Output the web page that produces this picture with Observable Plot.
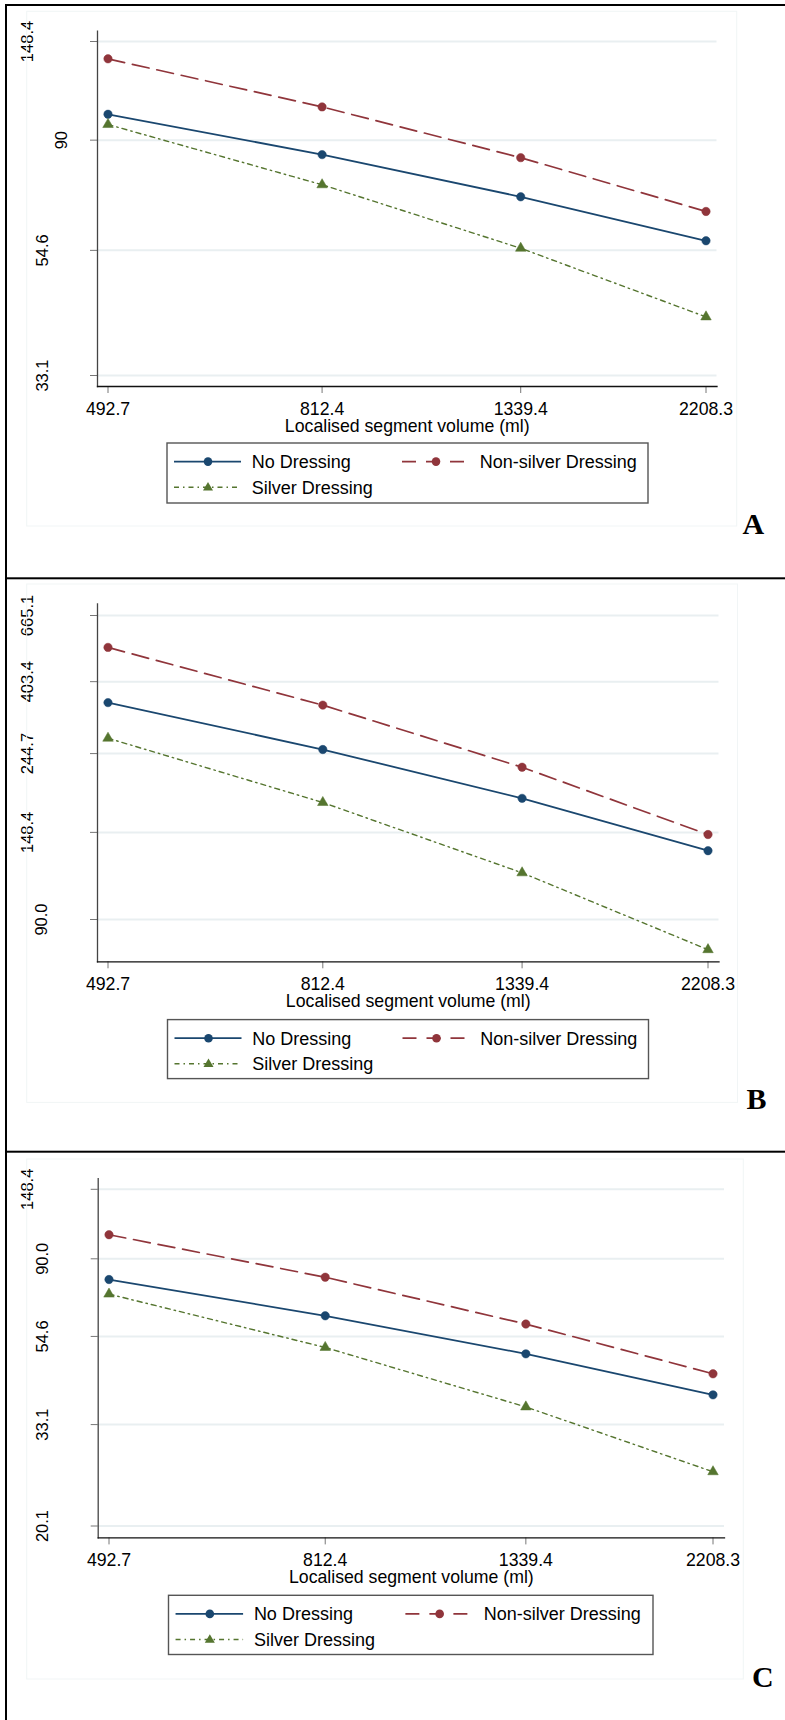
<!DOCTYPE html>
<html><head><meta charset="utf-8">
<script src="https://cdn.jsdelivr.net/npm/d3@7"></script>
<script src="https://cdn.jsdelivr.net/npm/@observablehq/plot@0.6"></script>
<style>
body{margin:0;background:#fff;}
#wrap{position:relative;width:785px;height:1720px;overflow:hidden;background:#fff;font-family:"Liberation Sans",Arial,sans-serif;}
.panel{position:absolute;left:0;}
#deco{position:absolute;left:0;top:0;pointer-events:none;}
</style></head><body><div id="wrap"></div>
<script>
// ---------- data ----------
const volumes = [492.7, 812.4, 1339.4, 2208.3];
const volumeLabels = ["492.7", "812.4", "1339.4", "2208.3"];
const series = ["No Dressing", "Non-silver Dressing", "Silver Dressing"];
const xTitle = "Localised segment volume (ml)";

const noDressingA = [102.1, 84.0, 69.1, 56.9];
const nonSilverA  = [135.4, 105.9, 82.8, 64.7];
const silverA     = [97.1, 73.0, 55.1, 41.5];
const yTicksA      = [33.1, 54.6, 90, 148.4];
const yTickLabelsA = ["33.1", "54.6", "90", "148.4"];

const noDressingB = [347.2, 251.4, 183.1, 133.0];
const nonSilverB  = [520.0, 341.0, 223.6, 146.5];
const silverB     = [271.3, 178.4, 116.9, 76.6];
const yTicksB      = [90.0, 148.4, 244.7, 403.4, 665.1];
const yTickLabelsB = ["90.0", "148.4", "244.7", "403.4", "665.1"];

const noDressingC = [78.3, 62.0, 49.2, 38.9];
const nonSilverC  = [106.4, 79.5, 58.9, 43.8];
const silverC     = [71.2, 51.1, 36.4, 26.0];
const yTicksC      = [20.1, 33.1, 54.6, 90.0, 148.4];
const yTickLabelsC = ["20.1", "33.1", "54.6", "90.0", "148.4"];

const panelLetters = ["A", "B", "C"];

// ---------- styles ----------
const colors = ["#1a476f", "#90353b", "#55752f"];
const dashes = [null, "17,8", "5,4,1.5,4"];
const widths = [1.8, 1.7, 1.4];

const panels = [
  {top: 0, height: 578, mL: 97, mT: 30.7, xAxisY: 386, xEnd: 716.5, xRange: [107.5, 705.5], yRange: [375, 41],
   values: [noDressingA, nonSilverA, silverA], yTicks: yTicksA, yTickLabels: yTickLabelsA,
   lab: {5: 27, 4: 42, 2: 61}, legend: {x: 167, y: 443, w: 481, h: 60, s: 1}, letter: {x: 742.5, y: 534},
   region: {x: 26.7, y: 11.3, w: 710, h: 514.7}},
  {top: 578, height: 573.5, mL: 97, mT: 25.3, xAxisY: 383.3, xEnd: 718.5, xRange: [107.5, 707.5], yRange: [341, 37],
   values: [noDressingB, nonSilverB, silverB], yTicks: yTicksB, yTickLabels: yTickLabelsB,
   lab: {5: 27, 4: 41.5, 2: 61}, legend: {x: 167.5, y: 1019.6, w: 481, h: 59, s: 1}, letter: {x: 746.5, y: 1109},
   region: {x: 26.7, y: 584, w: 710.8, h: 518.4}},
  {top: 1151.5, height: 568.5, mL: 97.7, mT: 26.2, xAxisY: 385.4, xEnd: 724, xRange: [108.5, 712.5], yRange: [373.5, 36.8],
   values: [noDressingC, nonSilverC, silverC], yTicks: yTicksC, yTickLabels: yTickLabelsC,
   lab: {5: 27, 4: 42, 2: 61}, legend: {x: 168.5, y: 1595.3, w: 484.5, h: 59.2, s: 1.008}, letter: {x: 752, y: 1686.7},
   region: {x: 26.7, y: 1159, w: 716.6, h: 520}}
];

const wrap = document.getElementById("wrap");
const lnVol = volumes.map(Math.log);

panels.forEach((cfg, pi) => {
  const rows = [];
  cfg.values.forEach((vals, s) => vals.forEach((v, i) => rows.push({series: series[s], s, volume: volumes[i], value: v})));
  const X = d => Math.log(d.volume);
  const Y = d => Math.log(d.value);
  const lnTicks = cfg.yTicks.map(Math.log);
  const tickRows = cfg.yTicks.map((t, i) => ({t, label: cfg.yTickLabels[i]}));
  const marks = [
    Plot.ruleY(lnTicks, {stroke: "#e9eff1", strokeWidth: 2}),
    Plot.axisY(lnTicks, {anchor: "left", tickSize: 7, tickFormat: () => "", stroke: "#777", label: null}),
    Plot.axisX(lnVol, {anchor: "bottom", tickSize: 7, tickPadding: 9, fontSize: 17.7, stroke: "#777", fill: "#000",
      tickFormat: d => volumeLabels[lnVol.indexOf(d)], label: null}),
    Plot.frame({anchor: "left", stroke: "#444", strokeWidth: 1.3}),
    Plot.frame({anchor: "bottom", stroke: "#111", strokeWidth: 1.3}),
    Plot.text([xTitle], {frameAnchor: "bottom", dy: 33, lineAnchor: "top", fontSize: 17.7, fill: "#000"})
  ];
  [2, 4, 5].forEach(len => {
    const sub = tickRows.filter(d => d.label.length === len);
    if (sub.length) marks.push(Plot.text(sub, {y: d => Math.log(d.t), text: "label", frameAnchor: "left", rotate: -90,
      dx: cfg.lab[len] - cfg.mL, textAnchor: "middle", lineAnchor: "middle", fontSize: 16.5, fill: "#000"}));
  });
  series.forEach((name, s) => {
    const sub = rows.filter(d => d.s === s);
    marks.push(Plot.line(sub, {x: X, y: Y, stroke: colors[s], strokeWidth: widths[s], strokeDasharray: dashes[s]}));
  });
  series.forEach((name, s) => {
    const sub = rows.filter(d => d.s === s);
    marks.push(Plot.dot(sub, {x: X, y: Y, fill: colors[s], stroke: colors[s], strokeWidth: 0.5,
      symbol: s === 2 ? "triangle" : "circle", r: s === 2 ? 3.9 : 4.2}));
  });
  const chart = Plot.plot({
    width: 785, height: cfg.height,
    marginLeft: cfg.mL, marginTop: cfg.mT, marginRight: 785 - cfg.xEnd, marginBottom: cfg.height - cfg.xAxisY,
    style: {fontFamily: "'Liberation Sans', Arial, sans-serif", color: "#000", background: "transparent", overflow: "visible"},
    x: {type: "log", domain: [lnVol[0], lnVol[lnVol.length - 1]], range: cfg.xRange},
    y: {type: "log", domain: [lnTicks[0], lnTicks[lnTicks.length - 1]], range: cfg.yRange},
    marks
  });
  chart.classList.add("panel");
  chart.style.top = cfg.top + "px";
  chart.style.position = "absolute";
  wrap.appendChild(chart);
});

// ---------- decoration: borders, legends, letters ----------
const NS = "http://www.w3.org/2000/svg";
const deco = document.createElementNS(NS, "svg");
deco.setAttribute("id", "deco");
deco.setAttribute("width", 785);
deco.setAttribute("height", 1720);
function el(tag, attrs, parent, text) {
  const e = document.createElementNS(NS, tag);
  for (const k in attrs) e.setAttribute(k, attrs[k]);
  if (text != null) e.textContent = text;
  (parent || deco).appendChild(e);
  return e;
}
panels.forEach((cfg, pi) => {
  const r = cfg.region;
  el("rect", {x: r.x, y: r.y, width: r.w, height: r.h, fill: "none", stroke: "#f1f5f6", "stroke-width": 1});
  const L = cfg.legend, s = L.s;
  el("rect", {x: L.x, y: L.y, width: L.w, height: L.h, fill: "#fff", stroke: "#555", "stroke-width": 1.4});
  const g = el("g", {transform: `translate(${L.x},${L.y})`});
  const entries = [
    {si: 0, lx: 7, ly: 18.6},
    {si: 1, lx: 235, ly: 18.6},
    {si: 2, lx: 7, ly: 44.2}
  ];
  entries.forEach(e => {
    const x0 = e.lx * s, y0 = e.ly;
    const ln = el("line", {x1: x0, x2: x0 + 67 * s, y1: y0, y2: y0, stroke: colors[e.si], "stroke-width": widths[e.si]}, g);
    if (dashes[e.si]) ln.setAttribute("stroke-dasharray", e.si === 1 ? "14,10" : dashes[e.si]);
    const cx = x0 + 34 * s;
    if (e.si === 2) {
      const h = 8.4, w = 10;
      el("path", {d: `M${cx},${y0 - h * 0.62}L${cx + w / 2},${y0 + h * 0.38}L${cx - w / 2},${y0 + h * 0.38}Z`, fill: colors[2]}, g);
    } else {
      el("circle", {cx, cy: y0, r: 4.3, fill: colors[e.si]}, g);
    }
    el("text", {x: x0 + 77.7 * s, y: y0 + 6.5, "font-size": 18, "font-family": "'Liberation Sans', Arial, sans-serif", fill: "#000"}, g, series[e.si]);
  });
  el("text", {x: cfg.letter.x, y: cfg.letter.y, "font-size": 30, "font-weight": "bold", "font-family": "'Liberation Serif', 'DejaVu Serif', serif", fill: "#000"}, null, panelLetters[pi]);
});
// outer black borders
el("rect", {x: 5, y: 4, width: 780, height: 2, fill: "#000"});
el("rect", {x: 5, y: 4, width: 2, height: 1716, fill: "#000"});
el("rect", {x: 5, y: 577.3, width: 780, height: 2, fill: "#000"});
el("rect", {x: 5, y: 1150.7, width: 780, height: 2, fill: "#000"});
wrap.appendChild(deco);
</script></body></html>
